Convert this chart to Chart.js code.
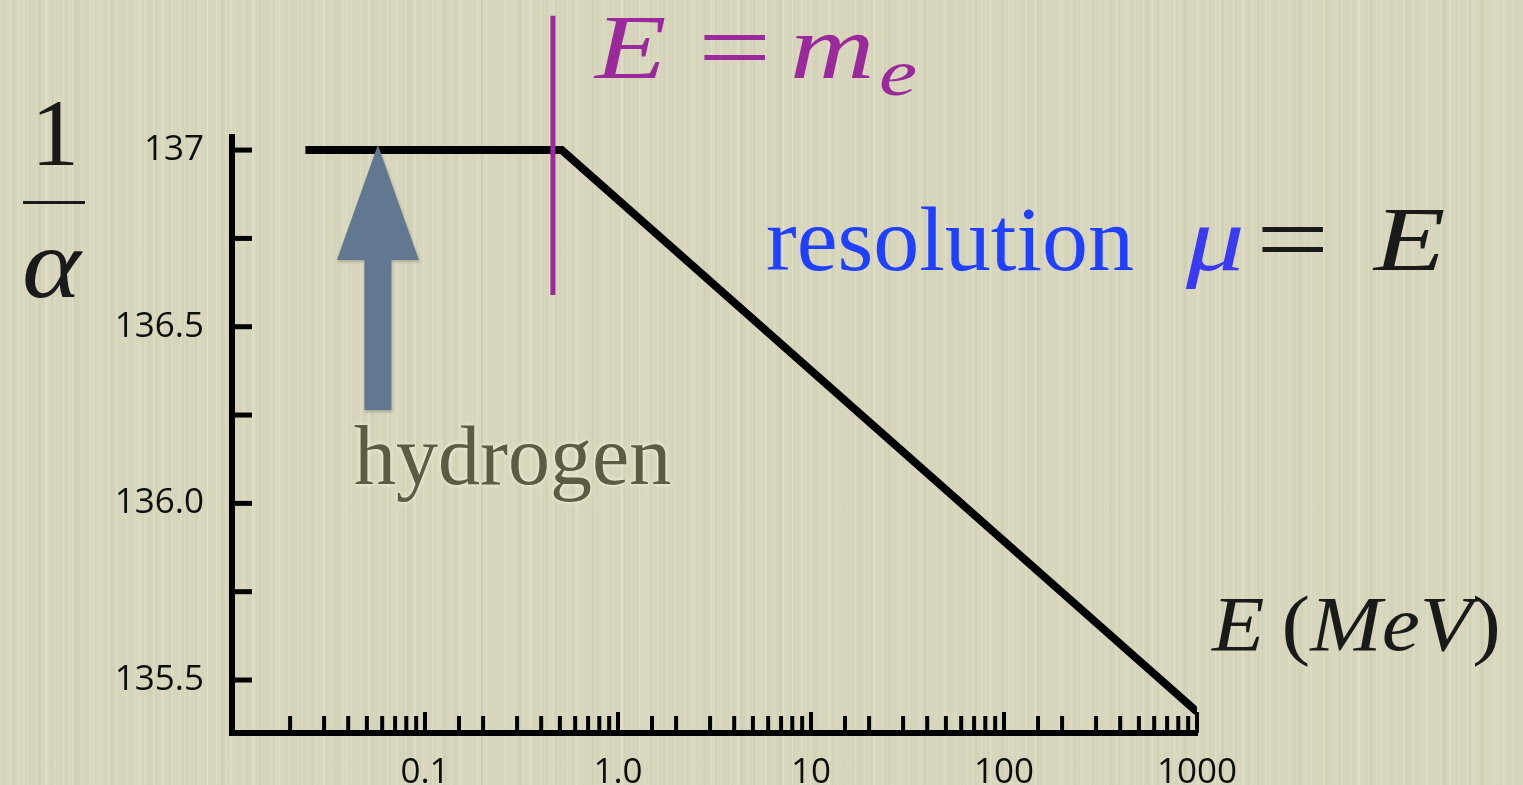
<!DOCTYPE html>
<html>
<head>
<meta charset="utf-8">
<title>Running of 1/alpha</title>
<script src="https://cdn.jsdelivr.net/npm/chart.js@4.4.1/dist/chart.umd.min.js"></script>
<style>
  html, body { margin: 0; padding: 0; }
  #page {
    position: relative; width: 1523px; height: 785px; overflow: hidden;
    background-color: #d7d5bb;
    background-image:
      repeating-linear-gradient(90deg, rgba(255,255,240,0.22) 0px, rgba(255,255,240,0) 2px, rgba(255,255,240,0) 9px),
      repeating-linear-gradient(90deg, rgba(140,140,100,0.07) 0px, rgba(140,140,100,0) 3px, rgba(140,140,100,0) 13px),
      repeating-linear-gradient(90deg, rgba(255,255,245,0.14) 0px, rgba(255,255,245,0) 4px, rgba(255,255,245,0) 23px),
      repeating-linear-gradient(90deg, rgba(120,120,90,0.06) 0px, rgba(120,120,90,0) 6px, rgba(120,120,90,0) 37px);
  }
  #chart { position: absolute; left: 0; top: 0; }
  .lbl { position: absolute; font-family: "Liberation Serif", "Times New Roman", serif; line-height: 1; white-space: nowrap; transform-origin: 0 0; }
  .it { font-style: italic; }
  .wide { transform: scaleX(1.3); }
  .bar { position: absolute; background: #1a1a1a; }
</style>
</head>
<body>
<div id="page">
  <canvas id="chart" width="1523" height="785"></canvas>

  <!-- y axis title: 1 / alpha -->
  <div class="lbl" style="left:5px; width:100px; text-align:center; top:85px; font-size:96px; color:#1a1a1a;">1</div>
  <div class="bar" style="left:23px; top:201px; width:62px; height:3px;"></div>
  <div class="lbl it" style="left:22px; top:214px; font-size:100px; color:#1a1a1a; transform:scaleX(1.12);">α</div>

  <!-- E = m_e marker text -->
  <div class="lbl it wide" style="left:595px; top:3px; font-size:90px; color:#9a2a9c;">E</div>
  <div class="lbl wide" style="left:698px; top:-2px; font-size:100px; color:#9a2a9c;">=</div>
  <div class="lbl it wide" style="left:790px; top:3px; font-size:90px; color:#9a2a9c;">m</div>
  <div class="lbl it wide" style="left:879px; top:40px; font-size:66px; color:#9a2a9c;">e</div>

  <!-- resolution mu = E -->
  <div class="lbl" style="left:766px; top:193px; font-size:92px; color:#2040ff;">resolution</div>
  <div class="lbl it wide" style="left:1186px; top:195px; font-size:90px; color:#3a3af0;">μ</div>
  <div class="lbl wide" style="left:1256px; top:190px; font-size:100px; color:#1a1a1a;">=</div>
  <div class="lbl it wide" style="left:1374px; top:195px; font-size:90px; color:#1a1a1a;">E</div>

  <!-- hydrogen -->
  <div class="lbl" style="left:354px; top:414px; font-size:84px; color:#5c5b43; text-shadow:0 0 5px rgba(250,250,235,0.9);">hydrogen</div>

  <!-- x axis title -->
  <div class="lbl" style="left:1212px; top:585px; font-size:78px; color:#1a1a1a; transform:scaleX(1.1);"><span class="it">E</span>&#8201;(<span class="it">MeV</span>)</div>
</div>

<script>
// 1/alpha against energy (MeV): flat below the electron mass, then falling
const energy = [0.024, 0.511, 1000];
const inverseAlpha = [137, 137, 135.41];

// vertical marker at E = m_e
const electronLineX = [0.46, 0.46];
const electronLineY = [136.59, 137.38];

// hydrogen arrow points at this energy on the flat part
const hydrogenE = 0.057;
const hydrogenValue = 137;

// axis ranges and ticks
const xMin = 0.01;
const xMax = 1000;
const yMin = 135.35;
const yMax = 137.037;
const xTickValues = [0.1, 1, 10, 100, 1000];
const xTickText = ['0.1', '1.0', '10', '100', '1000'];
const yTickValues = [135.5, 135.75, 136, 136.25, 136.5, 136.75, 137];
const yTickText = ['135.5', '', '136.0', '', '136.5', '', '137'];

function lookup(values, texts, v) {
    for (let i = 0; i < values.length; i++) {
        if (Math.abs(values[i] - v) < 1e-6 * Math.max(1, Math.abs(v))) return texts[i];
    }
    return '';
}

function isDecade(v) {
    const lg = Math.log10(v);
    return Math.abs(lg - Math.round(lg)) < 1e-6;
}

// inward tick marks on both axes
const tickMarks = {
    id: 'tickMarks',
    beforeDatasetsDraw(chart) {
        const { ctx, chartArea, scales } = chart;
        ctx.save();
        ctx.strokeStyle = '#000';
        ctx.lineCap = 'butt';

        ctx.lineWidth = 5;
        scales.y.ticks.forEach(t => {
            const py = scales.y.getPixelForValue(t.value);
            ctx.beginPath();
            ctx.moveTo(chartArea.left, py);
            ctx.lineTo(chartArea.left + 20, py);
            ctx.stroke();
        });

        ctx.lineWidth = 4;
        scales.x.ticks.forEach(t => {
            if (t.value <= xMin * 1.0001) return;
            const px = scales.x.getPixelForValue(t.value);
            const len = isDecade(t.value) ? 21 : 17;
            ctx.beginPath();
            ctx.moveTo(px, chartArea.bottom);
            ctx.lineTo(px, chartArea.bottom - len);
            ctx.stroke();
        });
        ctx.restore();
    }
};

// arrow pointing up at the hydrogen measurement
const hydrogenArrow = {
    id: 'hydrogenArrow',
    afterDatasetsDraw(chart) {
        const { ctx, scales } = chart;
        const tipX = scales.x.getPixelForValue(hydrogenE);
        const tipY = scales.y.getPixelForValue(hydrogenValue) - 5;
        ctx.save();
        ctx.fillStyle = '#627891';
        ctx.shadowColor = 'rgba(40,40,30,0.25)';
        ctx.shadowBlur = 3;
        ctx.shadowOffsetX = 1;
        ctx.shadowOffsetY = 2;
        ctx.beginPath();
        ctx.moveTo(tipX, tipY);
        ctx.lineTo(tipX + 41, tipY + 115);
        ctx.lineTo(tipX + 13.5, tipY + 115);
        ctx.lineTo(tipX + 13.5, tipY + 265);
        ctx.lineTo(tipX - 13.5, tipY + 265);
        ctx.lineTo(tipX - 13.5, tipY + 115);
        ctx.lineTo(tipX - 41, tipY + 115);
        ctx.closePath();
        ctx.fill();
        ctx.restore();
    }
};

const tickFont = { family: '"Open Sans", "DejaVu Sans", sans-serif', size: 35 };

new Chart(document.getElementById('chart').getContext('2d'), {
    type: 'line',
    data: {
        datasets: [{
            data: energy.map((e, i) => ({ x: e, y: inverseAlpha[i] })),
            borderColor: '#000',
            borderWidth: 8,
            pointRadius: 0,
            tension: 0,
            borderJoinStyle: 'miter',
            order: 1
        }, {
            data: electronLineX.map((e, i) => ({ x: e, y: electronLineY[i] })),
            borderColor: '#9b2a9c',
            borderWidth: 5,
            pointRadius: 0,
            clip: false,
            order: 0
        }]
    },
    options: {
        responsive: false,
        animation: false,
        events: [],
        layout: { padding: { left: 0, top: 137, right: 326, bottom: 0 } },
        plugins: {
            legend: { display: false },
            tooltip: { enabled: false }
        },
        scales: {
            x: {
                type: 'logarithmic',
                min: xMin,
                max: xMax,
                grid: { display: false },
                border: { display: true, width: 6, color: '#000' },
                ticks: {
                    autoSkip: false,
                    maxRotation: 0,
                    padding: 11,
                    color: '#0d0d0d',
                    font: tickFont,
                    callback: v => lookup(xTickValues, xTickText, v)
                },
                afterFit(scale) { scale.height = 52; }
            },
            y: {
                type: 'linear',
                min: yMin,
                max: yMax,
                grid: { display: false },
                border: { display: true, width: 6, color: '#000' },
                afterBuildTicks(scale) {
                    scale.ticks = yTickValues.map(v => ({ value: v }));
                },
                ticks: {
                    padding: 20,
                    color: '#0d0d0d',
                    font: tickFont,
                    callback: v => lookup(yTickValues, yTickText, v)
                },
                afterFit(scale) { scale.width = 232; }
            }
        }
    },
    plugins: [tickMarks, hydrogenArrow]
});
</script>
</body>
</html>
